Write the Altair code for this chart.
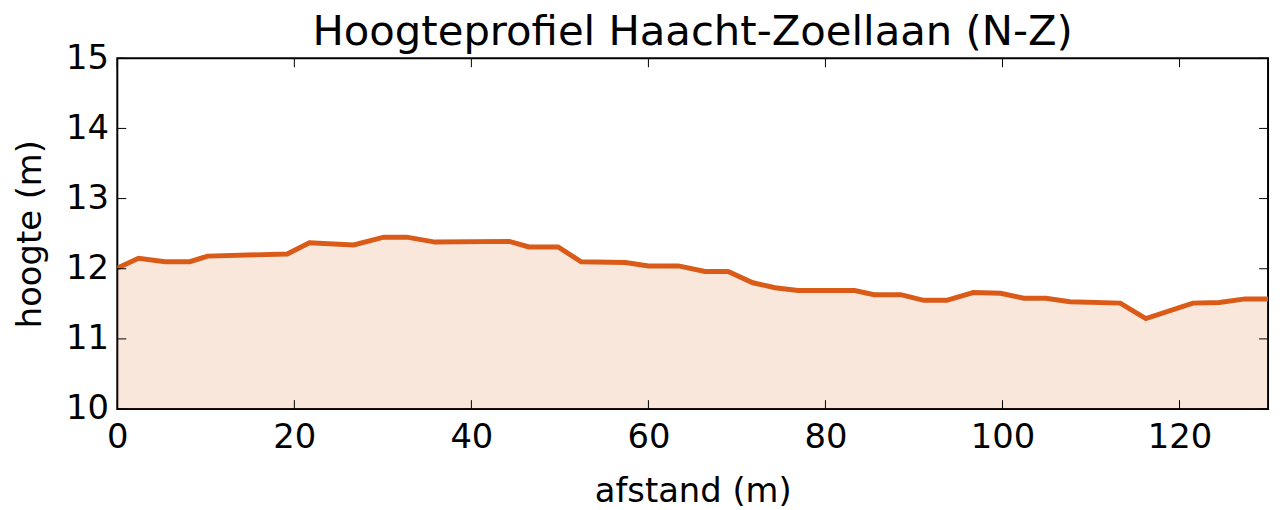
import altair as alt
import pandas as pd

# distance along the profile (m)
afstand = [0, 2.4, 5.4, 8.2, 10.2, 19.2, 21.7, 26.7, 30.1, 32.7, 35.9, 44.3, 46.5, 49.8,
           52.4, 57.4, 60.0, 63.4, 66.4, 69.0, 71.8, 74.3, 76.9, 83.3, 85.5, 88.5, 91.1,
           93.7, 96.7, 99.8, 102.4, 104.9, 107.6, 113.3, 116.2, 121.5, 124.5, 127.4, 130]
# height (m)
hoogte = [12.01, 12.15, 12.10, 12.10, 12.18, 12.21, 12.37, 12.34, 12.45, 12.45, 12.38,
          12.39, 12.31, 12.31, 12.10, 12.09, 12.04, 12.04, 11.96, 11.96, 11.80, 11.73,
          11.69, 11.69, 11.63, 11.63, 11.55, 11.55, 11.66, 11.65, 11.58, 11.58, 11.53,
          11.51, 11.29, 11.51, 11.52, 11.57, 11.57]

x_ticks = [0, 20, 40, 60, 80, 100, 120]
y_ticks = [10, 11, 12, 13, 14, 15]

W, H = 1158, 353
LINE = "#d95b17"
FONT = "DejaVu Sans"

df = pd.DataFrame({"afstand": afstand, "hoogte": hoogte})
xs = alt.Scale(domain=[0, 130], nice=False)
ys = alt.Scale(domain=[10, 15], nice=False, zero=False)

common = dict(format="d", grid=False, ticks=False, domain=False, labelFlush=False,
              labelFont=FONT, labelFontSize=34, labelColor="black",
              titleFont=FONT, titleFontSize=34, titleColor="black", titleFontWeight="normal")
xax = alt.Axis(values=x_ticks, title="afstand (m)", labelPadding=12, titlePadding=20, **common)
yax = alt.Axis(values=y_ticks, title="hoogte (m)", labelPadding=9, titlePadding=18, **common)

base = alt.Chart(df)
area = base.mark_area(color=LINE, opacity=0.15, clip=True).encode(
    x=alt.X("afstand:Q", scale=xs, axis=xax),
    y=alt.Y("hoogte:Q", scale=ys, axis=yax),
    y2=alt.datum(10),
)
line = base.mark_line(color=LINE, strokeWidth=5, clip=True).encode(
    x=alt.X("afstand:Q", scale=xs),
    y=alt.Y("hoogte:Q", scale=ys),
)

xt = alt.Chart(pd.DataFrame({"t": x_ticks}))
yt = alt.Chart(pd.DataFrame({"t": y_ticks}))
tk = dict(color="black", strokeWidth=1)
xb = xt.mark_rule(**tk).encode(x=alt.X("t:Q", scale=xs), y=alt.value(H), y2=alt.value(H - 9))
xtop = xt.mark_rule(**tk).encode(x=alt.X("t:Q", scale=xs), y=alt.value(0), y2=alt.value(9))
yl = yt.mark_rule(**tk).encode(y=alt.Y("t:Q", scale=ys), x=alt.value(0), x2=alt.value(9))
yr = yt.mark_rule(**tk).encode(y=alt.Y("t:Q", scale=ys), x=alt.value(W), x2=alt.value(W - 9))

chart = alt.layer(area, line, xb, xtop, yl, yr).properties(
    width=W, height=H,
    title=alt.Title("Hoogteprofiel Haacht-Zoellaan (N-Z)", font=FONT, fontSize=42,
                    fontWeight="normal", color="black", offset=4, dy=17),
    autosize=alt.AutoSizeParams(type="none"),
    padding={"left": 110, "top": 49, "right": 6, "bottom": 100},
    background="white",
).configure_view(stroke="black", strokeWidth=2)

chart.save("out.html", embed_options={"renderer": "svg", "actions": False})
